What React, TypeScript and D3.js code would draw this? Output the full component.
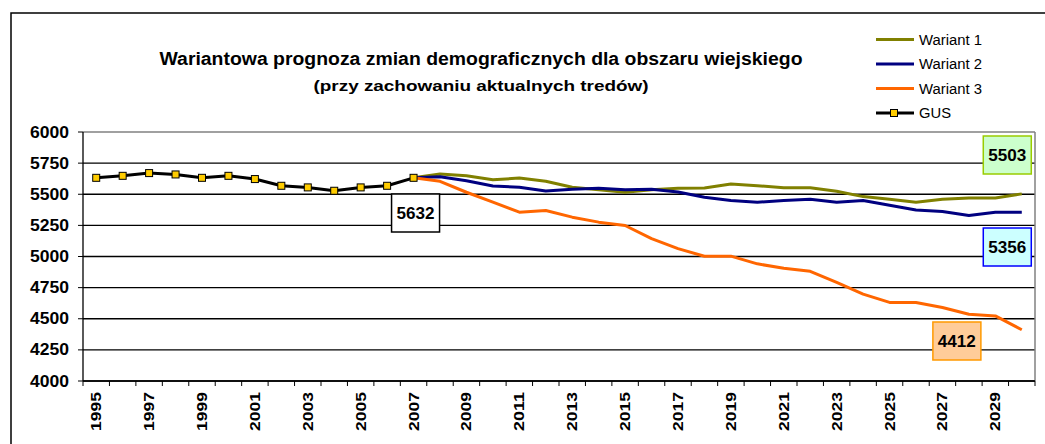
import React from "react";
import * as d3 from "d3";

const years: number[] = d3.range(1995, 2031);
const gusYears: number[] = d3.range(1995, 2008);
const gusValues: number[] = [5632, 5648, 5670, 5659, 5632, 5648, 5622, 5568, 5555, 5528, 5555, 5568, 5632];
const forecastYears: number[] = d3.range(2007, 2031);
const wariant1: number[] = [5632, 5662, 5649, 5617, 5630, 5604, 5556, 5537, 5516, 5537, 5548, 5550, 5582, 5569, 5553, 5553, 5524, 5481, 5460, 5436, 5460, 5470, 5470, 5503];
const wariant2: number[] = [5632, 5641, 5609, 5566, 5556, 5526, 5540, 5548, 5537, 5540, 5518, 5476, 5449, 5436, 5449, 5460, 5436, 5449, 5412, 5374, 5361, 5329, 5356, 5356];
const wariant3: number[] = [5632, 5604, 5516, 5436, 5356, 5369, 5316, 5276, 5249, 5143, 5063, 5002, 5003, 4941, 4906, 4881, 4792, 4698, 4631, 4631, 4590, 4536, 4523, 4412];
const yTicks: number[] = [4000, 4250, 4500, 4750, 5000, 5250, 5500, 5750, 6000];
const xLabelYears: number[] = d3.range(1995, 2030, 2);
const legendNames: string[] = ["Wariant 1", "Wariant 2", "Wariant 3", "GUS"];
const titleLines: string[] = [
  "Wariantowa prognoza zmian demograficznych dla obszaru wiejskiego",
  "(przy zachowaniu aktualnych tredów)",
];

const FONT = "'Liberation Sans', Arial, sans-serif";

export default function App() {
  const W = 1045;
  const H = 444;
  const left = 83;
  const right = 1035;
  const top = 132;
  const bottom = 381;

  const x = d3.scaleBand<number>().domain(years).range([left, right]).paddingInner(0).paddingOuter(0);
  const y = d3.scaleLinear().domain([4000, 6000]).range([bottom, top]);
  const cx = (yr: number) => (x(yr) as number) + x.bandwidth() / 2;

  const line = d3
    .line<[number, number]>()
    .x((d) => cx(d[0]))
    .y((d) => y(d[1]));

  const series = [
    { name: "Wariant 1", color: "#808000", values: wariant1 },
    { name: "Wariant 2", color: "#000080", values: wariant2 },
    { name: "Wariant 3", color: "#FF6600", values: wariant3 },
  ];

  const gusPts: [number, number][] = gusYears.map((yr, i) => [yr, gusValues[i]]);

  const labelBoxes = [
    { year: 2007, value: gusValues[gusValues.length - 1], dx: 2, yy: 194, fill: "#FFFFFF", stroke: "#000000" },
    { year: 2030, value: wariant1[wariant1.length - 1], dx: -14.5, yy: 136, fill: "#CCFFCC", stroke: "#99CC00" },
    { year: 2030, value: wariant2[wariant2.length - 1], dx: -14.5, yy: 228, fill: "#CCFFFF", stroke: "#0000FF" },
    { year: 2028, value: wariant3[wariant3.length - 1], dx: -12, yy: 322, fill: "#FFCC99", stroke: "#FF9900" },
  ];

  const legendColors = ["#808000", "#000080", "#FF6600", "#000000"];
  const titleWidths = [643, 335];

  return (
    <svg width={W} height={H} style={{ display: "block", position: "absolute", left: 0, top: 0 }} fontFamily={FONT}>
      <rect x={0} y={0} width={W} height={H} fill="#FFFFFF" />
      <rect x={11} y={13} width={W + 20} height={H + 20} fill="none" stroke="#000" strokeWidth={1.5} />

      {/* title */}
      {titleLines.map((t, i) => (
        <text
          key={i}
          x={481}
          y={65 + i * 26}
          textAnchor="middle"
          fontSize={i === 0 ? 17.5 : 15.5}
          fontWeight="bold"
          fill="#000"
          textLength={titleWidths[i]}
          lengthAdjust="spacingAndGlyphs"
        >
          {t}
        </text>
      ))}

      {/* gridlines */}
      {yTicks.map((v) => (
        <line key={v} x1={left} x2={right} y1={y(v)} y2={y(v)} stroke={v === 6000 ? "#808080" : "#000"} strokeWidth={v === 6000 ? 1.5 : 1.3} />
      ))}
      <line x1={right} x2={right} y1={top} y2={bottom} stroke="#808080" strokeWidth={1.5} />

      {/* y axis */}
      <line x1={left} x2={left} y1={top} y2={bottom} stroke="#000" strokeWidth={1.3} />
      {yTicks.map((v) => (
        <g key={v}>
          <line x1={left - 5} x2={left} y1={y(v)} y2={y(v)} stroke="#000" strokeWidth={1} />
          <text
            x={69}
            y={y(v) + 5.5}
            textAnchor="end"
            fontSize={16}
            fontWeight="bold"
            textLength={39}
            lengthAdjust="spacingAndGlyphs"
          >
            {v}
          </text>
        </g>
      ))}

      {/* x axis */}
      <line x1={left} x2={right} y1={bottom} y2={bottom} stroke="#000" strokeWidth={1.3} />
      {years.map((yr) => (
        <line key={yr} x1={x(yr) as number} x2={x(yr) as number} y1={bottom} y2={bottom + 5} stroke="#000" strokeWidth={1} />
      ))}
      <line x1={right} x2={right} y1={bottom} y2={bottom + 5} stroke="#000" strokeWidth={1} />
      {xLabelYears.map((yr) => (
        <text
          key={yr}
          transform={`translate(${cx(yr) + 5},${bottom + 11}) rotate(-90)`}
          textAnchor="end"
          fontSize={14}
          fontWeight="bold"
          textLength={39}
          lengthAdjust="spacingAndGlyphs"
        >
          {yr}
        </text>
      ))}

      {/* series */}
      {series.map((s) => (
        <path
          key={s.name}
          d={line(forecastYears.map((yr, i) => [yr, s.values[i]] as [number, number])) || ""}
          fill="none"
          stroke={s.color}
          strokeWidth={3}
          strokeLinejoin="round"
        />
      ))}
      <path d={line(gusPts) || ""} fill="none" stroke="#000" strokeWidth={3} strokeLinejoin="round" />
      {gusPts.map((p, i) => (
        <rect key={i} x={cx(p[0]) - 3.5} y={y(p[1]) - 3.5} width={7} height={7} fill="#FFCC00" stroke="#000" strokeWidth={1} />
      ))}

      {/* data labels */}
      {labelBoxes.map((b, i) => {
        const bx = cx(b.year) + b.dx;
        return (
          <g key={i}>
            <rect x={bx - 24} y={b.yy} width={48} height={38} fill={b.fill} stroke={b.stroke} strokeWidth={1.5} />
            <text
              x={bx}
              y={b.yy + 25}
              textAnchor="middle"
              fontSize={16.5}
              fontWeight="bold"
              textLength={38}
              lengthAdjust="spacingAndGlyphs"
            >
              {b.value}
            </text>
          </g>
        );
      })}

      {/* legend */}
      {legendNames.map((n, i) => {
        const ly = 39.5 + i * 24.5;
        return (
          <g key={n}>
            <line x1={876} x2={914} y1={ly} y2={ly} stroke={legendColors[i]} strokeWidth={3} />
            {n === "GUS" && <rect x={890.5} y={ly - 3.5} width={7} height={7} fill="#FFCC00" stroke="#000" strokeWidth={1} />}
            <text
              x={919}
              y={ly + 5}
              fontSize={14}
              textLength={n === "GUS" ? 32 : 63}
              lengthAdjust="spacingAndGlyphs"
            >
              {n}
            </text>
          </g>
        );
      })}
    </svg>
  );
}
